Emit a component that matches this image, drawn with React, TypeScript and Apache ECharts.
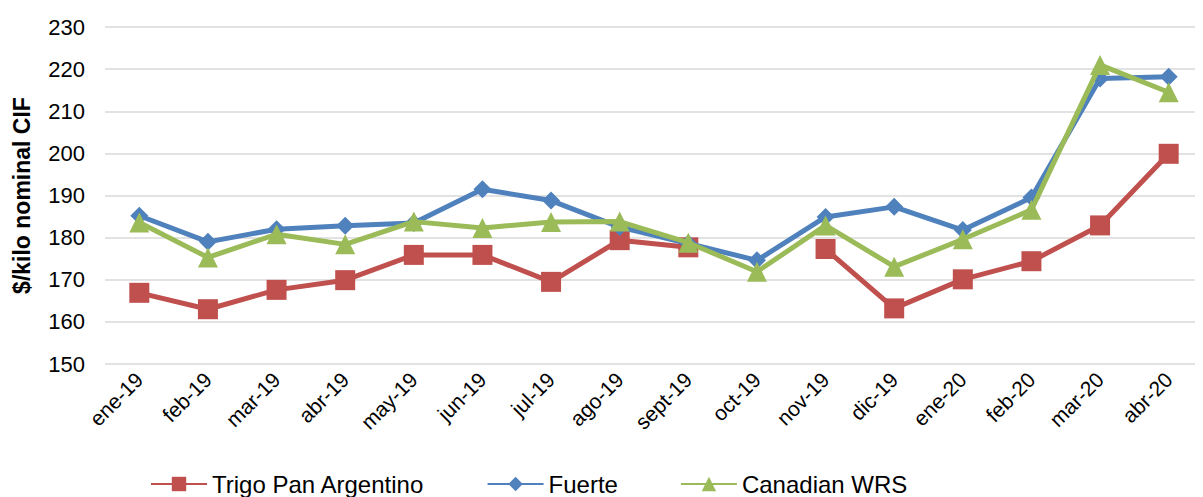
import React, { useEffect, useRef } from "react";
import * as echarts from "echarts";

const categories = [
  "ene-19", "feb-19", "mar-19", "abr-19", "may-19", "jun-19", "jul-19", "ago-19",
  "sept-19", "oct-19", "nov-19", "dic-19", "ene-20", "feb-20", "mar-20", "abr-20",
];

const trigoPan: (number | null)[] = [
  166.9, 163.0, 167.6, 169.9, 175.9, 175.9, 169.5, 179.4,
  177.7, null, 177.3, 163.2, 170.1, 174.4, 182.9, 199.9,
];

const fuerte = [
  185.2, 179.0, 182.0, 182.8, 183.5, 191.5, 188.8, 182.5,
  178.6, 174.6, 184.9, 187.3, 181.8, 189.5, 217.8, 218.2,
];

const canadian = [
  183.6, 175.3, 180.8, 178.4, 183.8, 182.3, 183.7, 183.8,
  178.8, 171.9, 182.9, 173.1, 179.6, 186.6, 221.0, 214.5,
];

const yTicks = { min: 150, max: 230, interval: 10 };

export default function App() {
  const ref = useRef<HTMLDivElement>(null);
  useEffect(() => {
    if (!ref.current) return;
    const chart = echarts.init(ref.current, undefined, { renderer: "svg" });
    const font = "'Liberation Sans', Arial, sans-serif";
    chart.setOption({
      animation: false,
      backgroundColor: "#ffffff",
      textStyle: { fontFamily: font },
      grid: { left: 105, top: 27, bottom: 133, width: 1110, containLabel: false },
      legend: {
        top: 472,
        left: 150,
        padding: 0,
        itemWidth: 56,
        itemHeight: 18,
        itemGap: 62,
        textStyle: { fontFamily: font, fontSize: 24, lineHeight: 24, color: "#000" },
        data: ["Trigo Pan Argentino", "Fuerte", "Canadian WRS"],
      },
      xAxis: {
        type: "category",
        data: categories,
        boundaryGap: true,
        axisLine: { show: false },
        axisTick: { show: false },
        axisLabel: {
          rotate: 45,
          interval: 0,
          margin: 12,
          fontFamily: font,
          fontSize: 21,
          color: "#000",
        },
      },
      yAxis: {
        type: "value",
        min: yTicks.min,
        max: yTicks.max,
        interval: yTicks.interval,
        name: "$/kilo nominal CIF",
        nameLocation: "middle",
        nameGap: 72,
        nameTextStyle: { fontFamily: font, fontSize: 23, fontWeight: "bold", color: "#000" },
        axisLine: { show: false },
        axisTick: { show: false },
        axisLabel: { margin: 20, fontFamily: font, fontSize: 22, color: "#000" },
        splitLine: { lineStyle: { color: "#D9D9D9", width: 1.5 } },
      },
      series: [
        {
          name: "Trigo Pan Argentino",
          type: "line",
          data: trigoPan,
          connectNulls: false,
          symbol: "rect",
          symbolSize: 20,
          color: "#C0504D",
          lineStyle: { width: 5, color: "#C0504D" },
          itemStyle: { color: "#C0504D" },
          z: 2,
        },
        {
          name: "Fuerte",
          type: "line",
          data: fuerte,
          symbol: "diamond",
          symbolSize: 18,
          color: "#4F81BD",
          lineStyle: { width: 5, color: "#4F81BD" },
          itemStyle: { color: "#4F81BD" },
          z: 3,
        },
        {
          name: "Canadian WRS",
          type: "line",
          data: canadian,
          symbol: "triangle",
          symbolSize: 20,
          color: "#9BBB59",
          lineStyle: { width: 5, color: "#9BBB59" },
          itemStyle: { color: "#9BBB59" },
          z: 4,
        },
      ],
    });
    return () => chart.dispose();
  }, []);
  return <div ref={ref} style={{ width: 1203, height: 497, marginLeft: -8, marginTop: -8 }} />;
}
